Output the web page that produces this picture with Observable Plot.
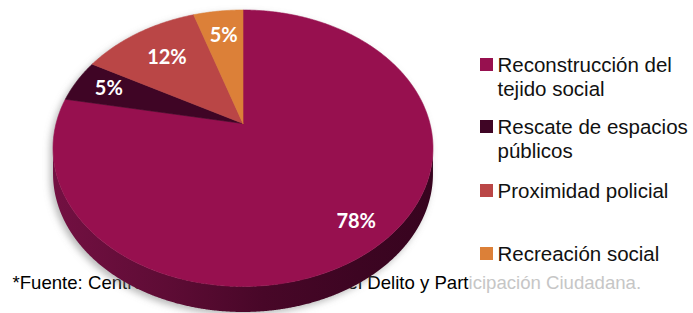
<!DOCTYPE html>
<html><head><meta charset="utf-8">
<script src="https://cdn.jsdelivr.net/npm/d3@7"></script>
<script src="https://cdn.jsdelivr.net/npm/@observablehq/plot@0.6"></script>
<style>
html,body{margin:0;padding:0;background:#fff;}
</style>
</head><body>
<div id="chart"></div>
<script>
// ---- data ----
const categories = ["Reconstrucción del tejido social", "Rescate de espacios públicos", "Proximidad policial", "Recreación social"];
const values = [78, 5, 12, 5];
const percentLabels = ["78%", "5%", "12%", "5%"];
const legendLabels = ["Reconstrucción del\ntejido social", "Rescate de espacios\npúblicos", "Proximidad policial", "Recreación social"];
const colors = ["#97104F", "#3F0525", "#BA4646", "#DC8038"];
const sourceNote = ["*Fuente: Centro Nacional de", "Prevención del Delito y Part", "icipación Ciudadana."];

// ---- layout ----
const W = 693, H = 313;
const apex = [242.5, 123];
const A = 186.9, B = 133.8, K = 0.179, DEPTH = 25.5;
const labelRadius = [0.84, 0.8, 0.7, 0.75];
const legendX = 480, legendSq = 13, legendTextX = 497, legendLineGap = 24.5;
const legendBaselines = [71, 133, 197, 260];
const legendFont = 20.5;
const noteBaseline = 288, noteFont = 18.6;

function project(r, deg) {
  const t = deg * Math.PI / 180;
  const u = r * Math.sin(t), v = r * Math.cos(t);
  const d = 1 + K * v;
  return [apex[0] + A * u / d, apex[1] - B * v / d];
}

const total = d3.sum(values);

// slices (top face)
const sliceRows = [];
const labelRows = [];
let acc = 0;
categories.forEach((c, i) => {
  const a0 = acc / total * 360, a1 = (acc + values[i]) / total * 360;
  acc += values[i];
  const [cx, cy] = project(0, 0);
  sliceRows.push({cat: c, x: cx, y: cy});
  const n = Math.max(2, Math.ceil((a1 - a0) / 0.5));
  for (let j = 0; j <= n; j++) {
    const [x, y] = project(1, a0 + (a1 - a0) * j / n);
    sliceRows.push({cat: c, x, y});
  }
  sliceRows.push({cat: c, x: cx, y: cy});
  const [lx, ly] = project(labelRadius[i], (a0 + a1) / 2);
  labelRows.push({cat: c, x: lx, y: ly, text: percentLabels[i]});
});

// rim & side
const rim = d3.range(0, 1440).map(j => project(1, j / 4));
let iMax = 0, iMin = 0;
rim.forEach((p, j) => { if (p[0] > rim[iMax][0]) iMax = j; if (p[0] < rim[iMin][0]) iMin = j; });
const lowerArc = rim.slice(iMax, iMin + 1);
const upperArc = rim.slice(iMin).concat(rim.slice(0, iMax + 1));
const sideRows = lowerArc.map(([x, y]) => ({x, y}))
  .concat(lowerArc.slice().reverse().map(([x, y]) => ({x, y: y + DEPTH})));
const shadowRows = upperArc.map(([x, y]) => ({x, y}))
  .concat(lowerArc.map(([x, y]) => ({x, y: y + DEPTH})));

// legend
const legendRows = categories.map((c, i) => ({cat: c, y: legendBaselines[i]}));
const legendTextRows = [];
legendLabels.forEach((l, i) => l.split("\n").forEach((t, k) =>
  legendTextRows.push({text: t, y: legendBaselines[i] + k * legendLineGap})));

// note
const noteRows = [
  {text: sourceNote[0], x: 12, anchor: "start", fill: "#000"},
  {text: sourceNote[1], x: 468, anchor: "end", fill: "#000"},
  {text: sourceNote[2], x: 468, anchor: "start", fill: "#c6c6c6"}
];

const plot = Plot.plot({
  width: W, height: H,
  margin: 0, marginTop: 0, marginRight: 0, marginBottom: 0, marginLeft: 0,
  x: {domain: [0, W], range: [0, W], axis: null},
  y: {domain: [0, H], range: [0, H], axis: null},
  color: {type: "ordinal", domain: categories, range: colors},
  style: {fontFamily: "'Liberation Sans', Arial, sans-serif", background: "white", overflow: "visible"},
  marks: [
    Plot.text(noteRows.filter(d => d.anchor === "start"), {x: "x", y: () => noteBaseline, text: "text", fill: "fill", textAnchor: "start", lineAnchor: "bottom", fontSize: noteFont}),
    Plot.text(noteRows.filter(d => d.anchor === "end"), {x: "x", y: () => noteBaseline, text: "text", fill: "fill", textAnchor: "end", lineAnchor: "bottom", fontSize: noteFont}),
    Plot.line(shadowRows, {x: "x", y: "y", fill: "#7f7f7f", stroke: null, curve: "linear"}),
    Plot.line(sideRows, {x: "x", y: "y", fill: "url(#sideGrad)", stroke: null, curve: "linear"}),
    Plot.line(sliceRows, {x: "x", y: "y", z: "cat", fill: "cat", stroke: "cat", strokeWidth: 0.6, curve: "linear"}),
    Plot.text(labelRows, {x: "x", y: "y", text: "text", fill: "white", fontWeight: 700, fontSize: 20, fontFamily: "Lato, 'Open Sans', sans-serif"}),
    Plot.rect(legendRows, {x1: () => legendX, x2: () => legendX + legendSq, y1: d => d.y - legendSq, y2: "y", fill: "cat"}),
    Plot.text(legendTextRows, {x: () => legendTextX, y: "y", text: "text", textAnchor: "start", lineAnchor: "bottom", fontSize: legendFont, fill: "#111"})
  ]
});

const svg = d3.select(plot);
const defs = svg.insert("defs", ":first-child");
const g = defs.append("linearGradient").attr("id", "sideGrad").attr("gradientUnits", "userSpaceOnUse")
  .attr("x1", 52).attr("x2", 434).attr("y1", 0).attr("y2", 0);
[[0, "#731042"], [0.3, "#5E0C35"], [0.55, "#480728"], [0.8, "#3D0522"], [1, "#37041F"]]
  .forEach(([o, c]) => g.append("stop").attr("offset", o).attr("stop-color", c));
const f = defs.append("filter").attr("id", "shadow").attr("x", "-10%").attr("y", "-10%").attr("width", "120%").attr("height", "130%");
f.append("feOffset").attr("in", "SourceGraphic").attr("dx", -3).attr("dy", 3).attr("result", "o");
f.append("feGaussianBlur").attr("in", "o").attr("stdDeviation", 3.5);
svg.selectAll('[fill="#7f7f7f"]').attr("filter", "url(#shadow)").attr("fill-opacity", 0.55);
document.getElementById("chart").appendChild(plot);
</script>
</body></html>
